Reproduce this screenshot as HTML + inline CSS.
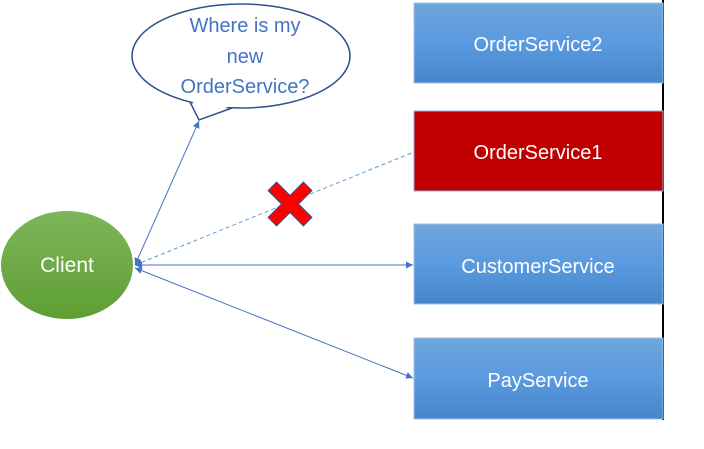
<!DOCTYPE html>
<html><head><style>
body{margin:0;background:#fff;width:704px;height:444px;overflow:hidden}
svg text{font-family:"Liberation Sans",sans-serif}
</style></head><body>
<svg width="704" height="444" viewBox="0 0 704 444">
<defs>
<linearGradient id="b" x1="0" y1="0" x2="0" y2="1"><stop offset="0" stop-color="#6fa6dc"/><stop offset="0.5" stop-color="#5a9ae0"/><stop offset="1" stop-color="#4586c9"/></linearGradient>
<linearGradient id="g" x1="0" y1="0" x2="0" y2="1"><stop offset="0" stop-color="#7db65a"/><stop offset="1" stop-color="#5f9e33"/></linearGradient>
<marker id="a" viewBox="0 0 10 10" refX="10" refY="5" markerWidth="7" markerHeight="7" orient="auto-start-reverse"><path d="M0,0L10,5L0,10z" fill="#4472c4"/></marker>
</defs>
<line x1="663" y1="0" x2="663" y2="420" stroke="#000" stroke-width="2"/>
<rect x="414" y="3" width="249" height="80" fill="url(#b)" stroke="#9dc3e6"/>
<rect x="414" y="111" width="249" height="80" fill="#c00000" stroke="#8fb0d8"/>
<rect x="414" y="224" width="249" height="80" fill="url(#b)" stroke="#9dc3e6"/>
<rect x="414" y="338" width="249" height="81" fill="url(#b)" stroke="#9dc3e6"/>
<g fill="#fff" font-size="20" text-anchor="middle">
<text x="538" y="51">OrderService2</text>
<text x="538" y="159">OrderService1</text>
<text x="538" y="273">CustomerService</text>
<text x="538" y="387">PayService</text>
</g>
<ellipse cx="241" cy="56" rx="109" ry="52" fill="#fff" stroke="#2f528f" stroke-width="1.5"/>
<path d="M190,102 L199,120 L232,108" fill="none" stroke="#2f528f" stroke-width="1.5"/>
<path d="M191,98 L199,117 L231,106 L231,98 Z" fill="#fff"/>
<g fill="#4472c4" font-size="20" text-anchor="middle">
<text x="245" y="32">Where is my</text>
<text x="245" y="63">new</text>
<text x="245" y="93">OrderService?</text>
</g>
<line x1="135" y1="265" x2="199" y2="121" stroke="#4472c4" marker-start="url(#a)" marker-end="url(#a)"/>
<line x1="135" y1="265" x2="414" y2="152" stroke="#5b9bd5" stroke-dasharray="4,3" marker-start="url(#a)"/>
<line x1="135" y1="265" x2="413" y2="265" stroke="#4472c4" marker-start="url(#a)" marker-end="url(#a)"/>
<line x1="135" y1="268" x2="413" y2="378" stroke="#4472c4" marker-start="url(#a)" marker-end="url(#a)"/>
<ellipse cx="67" cy="265" rx="66" ry="54" fill="url(#g)"/>
<text x="67" y="272" fill="#fff" font-size="21" text-anchor="middle">Client</text>
<g transform="translate(290,204) rotate(45)">
<path d="M-6,-25H6V-6H25V6H6V25H-6V6H-25V-6H-6Z" fill="#ff0000" stroke="#2f528f" stroke-width="1"/>
</g>
</svg>
</body></html>
